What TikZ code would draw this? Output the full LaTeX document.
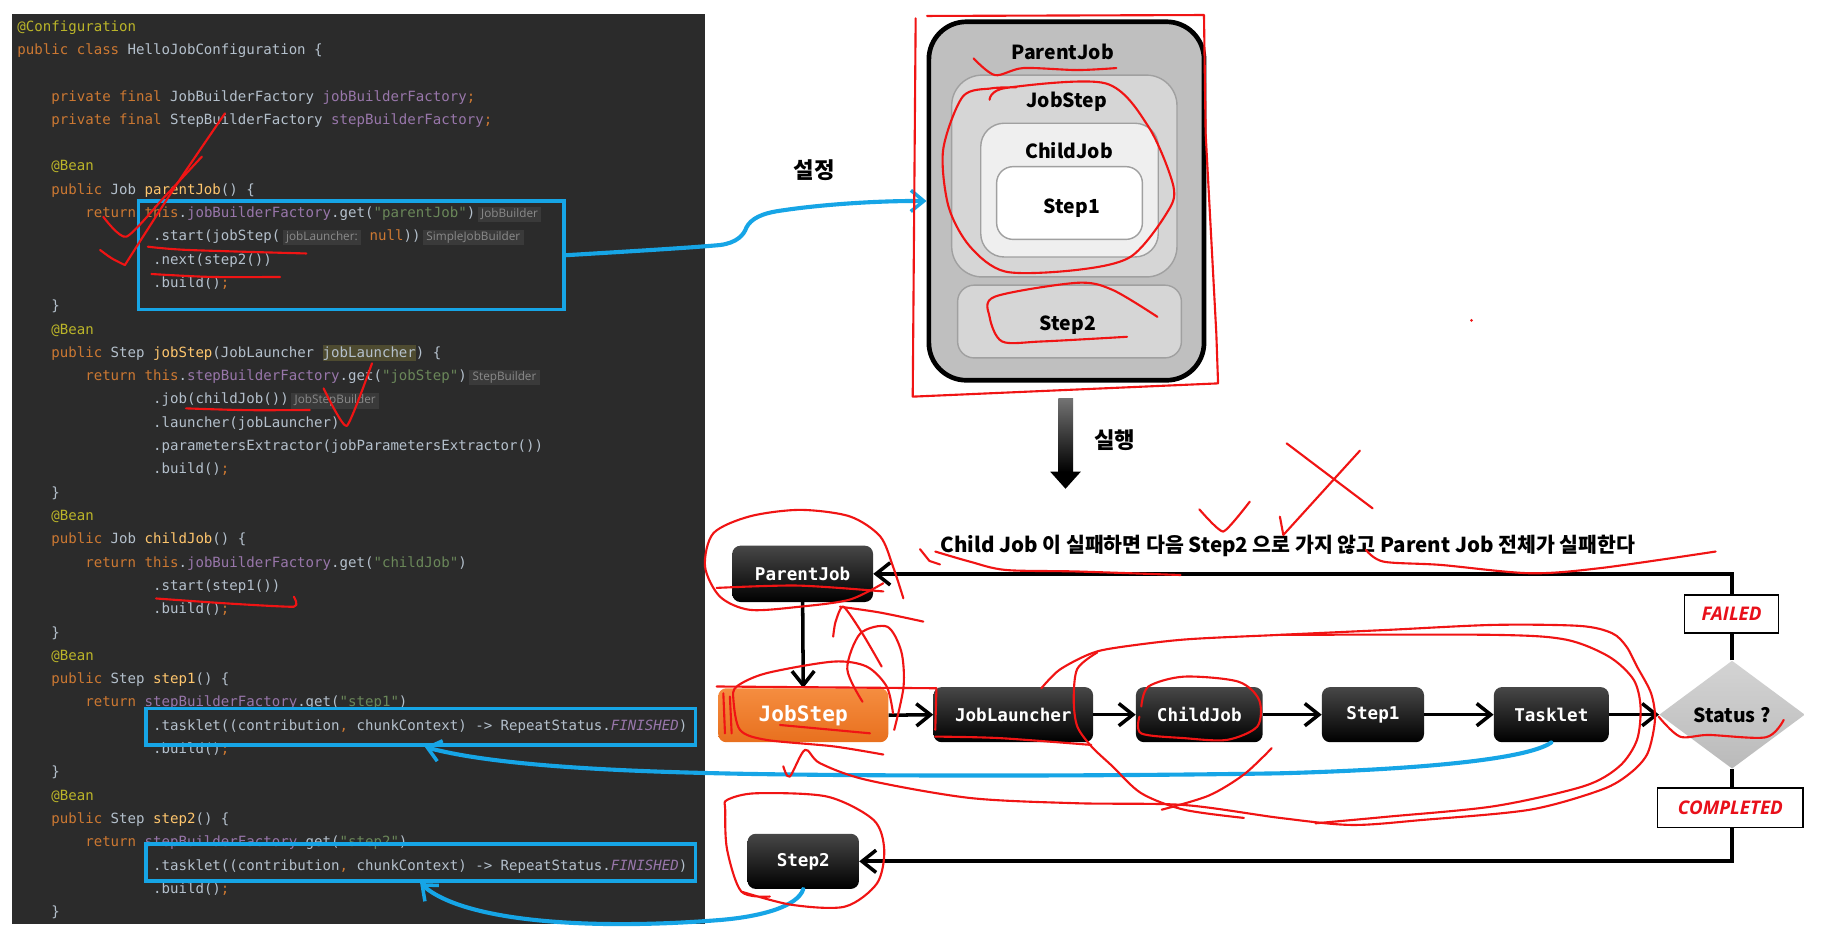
\documentclass[tikz,border=0pt]{standalone}
\usepackage{fontspec}
\usetikzlibrary{arrows.meta,shapes.geometric,calc}
\newfontfamily\codefont{DejaVu Sans Mono}
\newfontfamily\krfont{Noto Sans CJK KR}
\newfontfamily\hintfont{Open Sans}
\newfontfamily\labfont{Open Sans}
\definecolor{codebg}{HTML}{2B2B2B}
\definecolor{ckw}{HTML}{CC7832}
\definecolor{cdef}{HTML}{B4C0CC}
\definecolor{cann}{HTML}{BBB529}
\definecolor{cmeth}{HTML}{FFC66D}
\definecolor{cfield}{HTML}{9876AA}
\definecolor{cstr}{HTML}{6A8759}
\definecolor{chint}{HTML}{8A8A8A}
\definecolor{chintbg}{HTML}{3A3A3A}
\definecolor{chl}{HTML}{4E4B30}
\definecolor{bluepen}{HTML}{16A5E6}
\definecolor{redpen}{HTML}{F01414}
\definecolor{redtxt}{HTML}{E8101A}
\definecolor{outergray}{HTML}{BFBFBF}
\definecolor{midgray}{HTML}{D6D6D6}
\definecolor{lightgray}{HTML}{EFEFEF}
\definecolor{edgegray}{HTML}{A0A0A0}
\definecolor{orangetop}{HTML}{F58D40}
\definecolor{orangebot}{HTML}{E8701E}
\newcommand{\kw}[1]{\textcolor{ckw}{#1}}
\newcommand{\an}[1]{\textcolor{cann}{#1}}
\newcommand{\mth}[1]{\textcolor{cmeth}{#1}}
\newcommand{\fld}[1]{\textcolor{cfield}{#1}}
\newcommand{\cstr}[1]{\textcolor{cstr}{#1}}
\newcommand{\hint}[1]{{\setlength{\fboxsep}{1.5pt}\hspace{2pt}\colorbox{chintbg}{\hintfont\fontsize{10}{10}\selectfont\textcolor{chint}{\hspace{1.5pt}#1\hspace{1.5pt}}}}}
\newcommand{\hlp}[1]{{\setlength{\fboxsep}{0pt}\colorbox{chl}{\rule[-3.5pt]{0pt}{14pt}#1}}}
\newcommand{\cdl}[3]{\node[codeln] (c#1) at (#2,{26.5+19.86*#1}) {#3};}
\tikzset{
  codeln/.style={anchor=base west, inner sep=0pt, outer sep=0pt, text=cdef, font=\codefont\fontsize{12}{14}\selectfont},
  bluebox/.style={draw=bluepen, line width=3pt, inner sep=0pt},
  bluearrow/.style={draw=bluepen, line width=3.5pt, line cap=round, -{Straight Barb[length=11pt,width=18pt,line width=3pt]}},
  cont/.style={draw=edgegray, line width=1.2pt, inner sep=0pt},
  toplab/.style={font=\krfont\bfseries\fontsize{16.5}{16.5}\selectfont, text=black, inner sep=1pt},
  blk/.style={rounded corners=7pt, top color=black!72, middle color=black, bottom color=black, text=white, font=\codefont\bfseries\fontsize{15}{15}\selectfont, inner sep=0pt, minimum height=47pt},
  flowarrow/.style={line width=3pt, -{Straight Barb[length=12pt,width=19pt,line width=3pt]}},
  loopline/.style={line width=3.5pt, -{Straight Barb[length=12pt,width=19pt,line width=3pt]}},
  statlab/.style={draw=black, line width=1.3pt, fill=white, text=redtxt, font=\labfont\bfseries\itshape\fontsize{16}{16}\selectfont, inner sep=0pt},
  redmark/.style={draw=redpen, line width=1.8pt, line cap=round, line join=round},
}
\begin{document}
\begin{tikzpicture}[x=1pt,y=-1pt]
\useasboundingbox (0,0) rectangle (1568,803.6);
\fill[white] (0,0) rectangle (1568,803.6);
% code panel
\fill[codebg] (9.8,12) rectangle (601,787.4);
\cdl{0}{14.9}{\an{@Configuration}}
\cdl{1}{14.9}{\kw{public class }HelloJobConfiguration \{}
\cdl{3}{43.8}{\kw{private final }JobBuilderFactory \fld{jobBuilderFactory}\kw{;}}
\cdl{4}{43.8}{\kw{private final }StepBuilderFactory \fld{stepBuilderFactory}\kw{;}}
\cdl{6}{43.8}{\an{@Bean}}
\cdl{7}{43.8}{\kw{public }Job \mth{parentJob}() \{}
\cdl{8}{72.7}{\kw{return this}.\fld{jobBuilderFactory}.get(\cstr{"parentJob"})\hint{JobBuilder}}
\cdl{9}{130.5}{.start(jobStep(\hint{jobLauncher:} \kw{null}))\hint{SimpleJobBuilder}}
\cdl{10}{130.5}{.next(step2())}
\cdl{11}{130.5}{.build()\kw{;}}
\cdl{12}{43.8}{\}}
\cdl{13}{43.8}{\an{@Bean}}
\cdl{14}{43.8}{\kw{public }Step \mth{jobStep}(JobLauncher \hlp{jobLauncher}) \{}
\cdl{15}{72.7}{\kw{return this}.\fld{stepBuilderFactory}.get(\cstr{"jobStep"})\hint{StepBuilder}}
\cdl{16}{130.5}{.job(childJob())\hint{JobStepBuilder}}
\cdl{17}{130.5}{.launcher(jobLauncher)}
\cdl{18}{130.5}{.parametersExtractor(jobParametersExtractor())}
\cdl{19}{130.5}{.build()\kw{;}}
\cdl{20}{43.8}{\}}
\cdl{21}{43.8}{\an{@Bean}}
\cdl{22}{43.8}{\kw{public }Job \mth{childJob}() \{}
\cdl{23}{72.7}{\kw{return this}.\fld{jobBuilderFactory}.get(\cstr{"childJob"})}
\cdl{24}{130.5}{.start(step1())}
\cdl{25}{130.5}{.build()\kw{;}}
\cdl{26}{43.8}{\}}
\cdl{27}{43.8}{\an{@Bean}}
\cdl{28}{43.8}{\kw{public }Step \mth{step1}() \{}
\cdl{29}{72.7}{\kw{return }\fld{stepBuilderFactory}.get(\cstr{"step1"})}
\cdl{30}{130.5}{.tasklet((contribution\kw{,} chunkContext) -> RepeatStatus.\fld{\textit{FINISHED}})}
\cdl{31}{130.5}{.build()\kw{;}}
\cdl{32}{43.8}{\}}
\cdl{33}{43.8}{\an{@Bean}}
\cdl{34}{43.8}{\kw{public }Step \mth{step2}() \{}
\cdl{35}{72.7}{\kw{return }\fld{stepBuilderFactory}.get(\cstr{"step2"})}
\cdl{36}{130.5}{.tasklet((contribution\kw{,} chunkContext) -> RepeatStatus.\fld{\textit{FINISHED}})}
\cdl{37}{130.5}{.build()\kw{;}}
\cdl{38}{43.8}{\}}
% blue boxes
\node[bluebox, minimum width=362.4pt, minimum height=92.3pt] (box1) at (299.2,217.5) {};
\node[bluebox, minimum width=468.3pt, minimum height=31.3pt] (box2) at (358.6,619.3) {};
\node[bluebox, minimum width=468.3pt, minimum height=31.5pt] (box3) at (358.6,734.8) {};
% top diagram
\node[draw=black, line width=4pt, fill=outergray, rounded corners=32pt, inner sep=0pt, minimum width=234.5pt, minimum height=305.5pt] (tpj) at (908.8,171.3) {};
\node[cont, fill=midgray, rounded corners=26pt, minimum width=192pt, minimum height=172pt] (tjs) at (907,150) {};
\node[cont, fill=lightgray, rounded corners=20pt, minimum width=151.3pt, minimum height=114pt] (tcj) at (911.4,162) {};
\node[cont, fill=white, rounded corners=14pt, minimum width=124.2pt, minimum height=62pt] (ts1) at (911.4,173) {};
\node[cont, fill=midgray, rounded corners=14pt, minimum width=190.7pt, minimum height=62pt] (ts2) at (911.4,274) {};
\node[toplab] (tpjl) at (905.5,44) {ParentJob};
\node[toplab] (tjsl) at (909,87) {JobStep};
\node[toplab] (tcjl) at (911,128) {ChildJob};
\node[toplab] (ts1l) at (913.5,177) {Step1};
\node[toplab] (ts2l) at (910,277) {Step2};
\node[font=\krfont\bfseries\fontsize{19}{19}\selectfont, inner sep=0pt] (setl) at (694,145) {설정};
% execution arrow
\shade[top color=black!55, bottom color=black] (902,339.5) rectangle (914.5,402.5);
\fill[black] (895,402) -- (921,402) -- (908,416.5) -- cycle;
\node[font=\krfont\bfseries\fontsize{19}{19}\selectfont, inner sep=0pt] (runl) at (950,375) {실행};
% bottom diagram
\node[font=\krfont\bfseries\fontsize{17.5}{17.5}\selectfont, inner sep=0pt] (sent) at (1097.5,465) {Child Job 이 실패하면 다음 Step2 으로 가지 않고 Parent Job 전체가 실패한다};
\node[blk, minimum width=120pt, minimum height=48pt] (bpj) at (684,489) {ParentJob};
\node[rounded corners=7pt, top color=orangetop, bottom color=orangebot, text=white, font=\codefont\bfseries\fontsize{18}{18}\selectfont, inner sep=0pt, minimum width=145pt, minimum height=46pt] (bjs) at (684.5,609.5) {JobStep};
\node[blk, minimum width=136pt] (bjl) at (863.5,609) {JobLauncher};
\node[blk, minimum width=108pt] (bcj) at (1022,609) {ChildJob};
\node[blk, minimum width=87pt] (bs1) at (1170,609) {Step1};
\node[blk, minimum width=98pt] (btk) at (1322,609) {Tasklet};
\node[diamond, top color=black!17, bottom color=black!27, inner sep=0pt, minimum width=124pt, minimum height=92pt, font=\krfont\bfseries\fontsize{16.5}{16.5}\selectfont] (bst) at (1476,609) {Status ?};
\node[blk, minimum width=95pt] (bs2) at (684.5,734) {Step2};
\draw[flowarrow] (bpj.south) -- (bjs.north);
\draw[flowarrow] (bjs.east) -- (bjl.west);
\draw[flowarrow] (bjl.east) -- (bcj.west);
\draw[flowarrow] (bcj.east) -- (bs1.west);
\draw[flowarrow] (bs1.east) -- (btk.west);
\draw[flowarrow] (btk.east) -- (bst.west);
\draw[loopline] (bst.north) -- (bst.north |- bpj.east) -- (bpj.east);
\draw[loopline] (bst.south) -- (bst.south |- bs2.east) -- (bs2.east);
\node[statlab, minimum width=80pt, minimum height=32.6pt] (fl) at (1475.6,523.3) {FAILED};
\node[statlab, minimum width=124pt, minimum height=33.4pt] (cp) at (1474.6,688.3) {COMPLETED};
% blue connectors
\coordinate (b2in) at (362,636.5);
\coordinate (b3in) at (358,752.5);
\draw[bluearrow] (box1.east) .. controls (540,214) and (590,211) .. (613.5,208.8) .. controls (628,207) and (634,200) .. (636,194) .. controls (640,186) and (650,182) .. (662,180) .. controls (700,174) and (750,171) .. (tpj.west);
\draw[bluearrow] (btk.south) .. controls (1300,648) and (1200,656) .. (1090,659) .. controls (900,662) and (700,661) .. (613.5,659) .. controls (520,657) and (420,652) .. (b2in);
\draw[bluearrow] (bs2.south) .. controls (680,772) and (650,781) .. (613.5,784) .. controls (500,793) and (395,785) .. (b3in);
% red annotations: code
\draw[redmark] plot[smooth] coordinates {(191.7,96.6) (150,158) (106.4,225.9)};
\draw[redmark] plot[smooth, tension=0.4] coordinates {(88,184.7) (107.6,201.7) (140,168) (172,133.5)};
\draw[redmark] plot[smooth] coordinates {(85.3,213) (95,220) (106.4,225.9)};
\draw[redmark] plot[smooth] coordinates {(126,210.2) (160,213) (261,216)};
\draw[redmark] plot[smooth] coordinates {(129,233.5) (180,236) (238.7,236)};
\draw[redmark] plot[smooth] coordinates {(158.5,348) (210,349.5) (264,349.4)};
\draw[redmark] plot[smooth, tension=0.3] coordinates {(275.8,331) (295.4,363) (317,309.6)};
\draw[redmark] plot[smooth, tension=0.3] coordinates {(133,510) (190,514) (250.4,517) (250.4,508.5)};
% red annotations: top diagram
\draw[redmark] (790,13.6) -- (1026,12.8) -- (1027.4,113.6) -- (1036.5,284) -- (1038,326.7) -- (777.8,338) -- (780.3,15.6);
\draw[redmark] plot[smooth] coordinates {(829.6,49.7) (847.8,64) (872,58) (917.8,59.7) (951.3,58)};
\draw[redmark] plot[smooth] coordinates {(843.3,85) (857,75) (942,71) (978.7,108) (1000,159) (994,182) (963.5,218.8) (917.8,230) (857,231.5) (826.5,210) (808.3,176) (803.7,127.8) (820.4,82.4) (844.8,75.3) (866,74.4)};
\draw[redmark] plot[smooth] coordinates {(986.3,270) (948,247) (917.8,241) (847.8,252.8) (843.3,270) (854,291) (887.4,291) (960.4,287)};
\fill[redpen] (1254,273) circle (1.3);
% red annotations: bottom diagram
\draw[redmark] plot[smooth] coordinates {(797,470) (826.5,478.6) (857,485.7) (918,487) (1006,490)};
\draw[redmark] (784,468) -- (792,478) -- (801,481);
\draw[redmark] plot[smooth] coordinates {(1164,468.6) (1179,478.6) (1227.7,481.4) (1303.8,488.5) (1364.7,484) (1462,470)};
\draw[redmark] plot[smooth, tension=0.3] coordinates {(1022,434) (1042.4,453) (1065,427.5)};
\draw[redmark] (1096.4,377.8) -- (1169.7,433.2);
\draw[redmark] (1158.9,384) -- (1093.6,455.9) -- (1090.7,440.3);
\draw[redmark] plot[smooth] coordinates {(769.8,509.8) (761,482.8) (750,457) (724,440) (681.7,434.5) (639,440) (607.9,454.4) (600.8,482.8) (613.5,508.4) (639,519.7) (681.7,517) (724,511) (752.7,497)};
\draw[redmark] plot[smooth] coordinates {(610.7,501) (680,499) (752.7,504)};
\draw[redmark] plot[smooth] coordinates {(715.8,517) (750,522) (786.8,529.7)};
\draw[redmark] plot[smooth, tension=0.4] coordinates {(710,542.5) (712,530) (718.7,517) (735,540) (751.3,568)};
\draw[redmark] plot[smooth] coordinates {(735,598) (722,570) (733,540) (756,534) (768,555) (770,585) (762,622)};
\draw[redmark] plot[smooth] coordinates {(761,607.8) (755.6,585) (738.5,568) (710,563.8) (653,573.7) (627.8,585) (625,596.5) (630.6,622) (653,630.5) (710,636) (752.7,643)};
\draw[redmark] (610.7,585) -- (798,586.5) -- (797,622);
\draw[redmark] plot[smooth] coordinates {(797,627.7) (852,629) (930,634.8)};
\draw[redmark] (616.4,590.8) -- (617.8,625);
\draw[redmark] (622,593.6) -- (623.5,625);
\draw[redmark] (664.7,617.8) -- (741.4,624.9);
\draw[redmark] plot[smooth, tension=0.5] coordinates {(667.5,653) (673,661.8) (686,639) (698.8,650.4) (738.5,664.6) (826.5,680) (917.8,684.5) (1009,686) (1090.7,697) (1151.7,703) (1212.5,698.7) (1303.8,690) (1364.7,673) (1389,659) (1404,642) (1410.3,613.5) (1407,590.8) (1395,568) (1386,551) (1373.8,539.6) (1346.4,533.4) (1273.4,532.5) (1182,536.8) (1090.7,541) (1009,545) (948.2,552.4) (927,558) (902.6,571) (887.4,586.5)};
\draw[redmark] plot[smooth] coordinates {(1090.8,541) (1273,541) (1334,545) (1371,559.5) (1392,579) (1398,602) (1395,630.5) (1380,653) (1349.5,670) (1273.4,687) (1182,696) (1121,701.6)};
\draw[redmark] plot[smooth] coordinates {(935,556) (918,570) (915,596.5) (918,619) (930,636) (948,653) (972.6,676) (1009,690) (1060,697)};
\draw[redmark] plot[smooth] coordinates {(972.6,602) (978.7,585) (1009,576.6) (1055,580.8) (1073,596.5) (1071.5,619) (1045.6,630.5) (1009,629) (972.6,625) (971,610.7)};
\draw[redmark] plot[smooth] coordinates {(1083.7,637.6) (1060,660) (1030,678) (990,690)};
\draw[redmark] plot[smooth] coordinates {(1413.4,610.7) (1431.6,627.7) (1456,626.3) (1504.7,628.3) (1520,613.5)};
\draw[redmark] plot[smooth] coordinates {(656,764) (631.8,759.8) (619.6,724) (618,690) (619.6,681.7) (644,676) (704.8,678.8) (744.4,698.7) (753.5,724) (747.4,752.7) (720,772.6) (674.4,771) (631.8,759.8)};
\end{tikzpicture}
\end{document}
